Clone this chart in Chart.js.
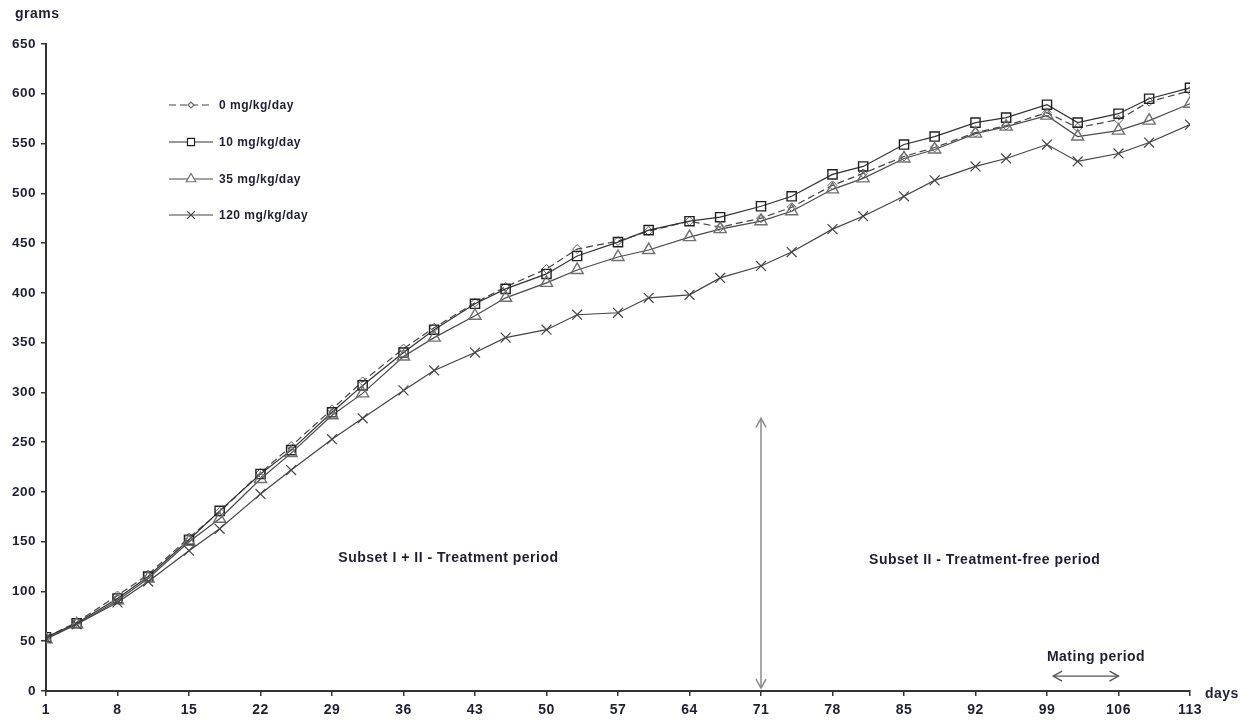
<!DOCTYPE html>
<html>
<head>
<meta charset="utf-8">
<script src="https://cdn.jsdelivr.net/npm/chart.js@4.4.1/dist/chart.umd.min.js"></script>
<style>
  html, body { margin: 0; padding: 0; background: #fff; }
  #wrap { width: 1249px; height: 721px; position: relative; }
</style>
</head>
<body>
<div id="wrap"><canvas id="chart" width="1249" height="721"></canvas></div>
<script>
// study days where body weight was recorded
const days = [1, 4, 8, 11, 15, 18, 22, 25, 29, 32, 36, 39, 43, 46, 50, 53, 57, 60, 64, 67, 71, 74, 78, 81, 85, 88, 92, 95, 99, 102, 106, 109, 113];
const dayTicks = [1, 8, 15, 22, 29, 36, 43, 50, 57, 64, 71, 78, 85, 92, 99, 106, 113];

// mean body weight (grams) per dose group
const dose0 = [54, 69, 96, 117, 154, 180, 219, 246, 283, 311, 344, 365, 390, 406, 424, 444, 452, 462, 472, 466, 475, 486, 508, 520, 537, 546, 561, 568, 581, 566, 574, 592, 603];
const dose10 = [54, 68, 93, 115, 152, 181, 218, 242, 280, 307, 340, 363, 389, 404, 419, 437, 451, 463, 472, 476, 487, 497, 519, 527, 549, 557, 571, 576, 589, 571, 580, 595, 606];
const dose35 = [52, 67, 91, 113, 150, 173, 213, 239, 277, 299, 336, 355, 377, 395, 410, 423, 436, 443, 456, 464, 472, 482, 504, 515, 535, 544, 560, 567, 578, 557, 563, 573, 590];
const dose120 = [53, 67, 89, 110, 141, 163, 198, 222, 253, 274, 302, 322, 340, 355, 363, 378, 380, 395, 398, 415, 427, 441, 464, 477, 497, 513, 527, 535, 549, 532, 540, 551, 569];

const labels = ['0 mg/kg/day', '10 mg/kg/day', '35 mg/kg/day', '120 mg/kg/day'];

const FONT = '"Liberation Sans", Arial, sans-serif';
const TEXT = '#1f1f33';

function toPoints(vals) {
  return days.map((d, i) => ({ x: d, y: vals[i] }));
}

// the original text is spaced out a little
const spacingPlugin = {
  id: 'spacing',
  beforeDraw(chart) { chart.ctx.letterSpacing = '0.5px'; }
};

// legend drawn by hand, stacked vertically in the upper left
const legendPlugin = {
  id: 'sideLegend',
  afterDraw(chart) {
    const ctx = chart.ctx;
    const rows = [105, 142, 179, 215];
    labels.forEach((lab, i) => {
      const ds = chart.data.datasets.find(d => d.label === lab);
      const y = rows[i];
      ctx.save();
      ctx.strokeStyle = ds.borderColor;
      ctx.lineWidth = 1.2;
      ctx.setLineDash(ds.borderDash || []);
      ctx.beginPath();
      ctx.moveTo(169, y);
      ctx.lineTo(213, y);
      ctx.stroke();
      ctx.setLineDash([]);
      ctx.fillStyle = '#fff';
      ctx.strokeStyle = ds.pointBorderColor;
      Chart.helpers.drawPoint(ctx, {
        pointStyle: ds.pointStyle,
        radius: ds.pointRadius - 1.5,
        borderWidth: 1.2
      }, 191, y);
      ctx.fillStyle = TEXT;
      ctx.font = 'bold 12px ' + FONT;
      ctx.textBaseline = 'middle';
      ctx.fillText(ds.label, 219, y + 1);
      ctx.restore();
    });
  }
};

function arrowHead(ctx, x, y, dx, dy) {
  const len = 9, w = 5;
  ctx.beginPath();
  ctx.moveTo(x - dx * len - dy * w, y - dy * len + dx * w);
  ctx.lineTo(x, y);
  ctx.lineTo(x - dx * len + dy * w, y - dy * len - dx * w);
  ctx.stroke();
}

// period notes and arrows
const notesPlugin = {
  id: 'notes',
  afterDatasetsDraw(chart) {
    const ctx = chart.ctx;
    const xs = chart.scales.x, ys = chart.scales.y;
    ctx.save();
    ctx.fillStyle = TEXT;
    ctx.font = 'bold 14px ' + FONT;
    ctx.textAlign = 'center';
    ctx.textBaseline = 'middle';
    ctx.fillText('Subset I + II - Treatment period', xs.getPixelForValue(40.4), ys.getPixelForValue(133));
    ctx.fillText('Subset II - Treatment-free period', xs.getPixelForValue(92.9), ys.getPixelForValue(131));
    ctx.fillText('Mating period', xs.getPixelForValue(103.8), ys.getPixelForValue(34));

    // treatment end arrow
    ctx.strokeStyle = '#8a8a8a';
    ctx.lineWidth = 1.5;
    const ax = xs.getPixelForValue(71);
    const top = ys.getPixelForValue(274), bot = ys.getPixelForValue(3);
    ctx.beginPath();
    ctx.moveTo(ax, top);
    ctx.lineTo(ax, bot);
    ctx.stroke();
    arrowHead(ctx, ax, top, 0, -1);
    arrowHead(ctx, ax, bot, 0, 1);

    // mating arrow
    ctx.strokeStyle = '#555';
    ctx.lineWidth = 1.3;
    const mx1 = xs.getPixelForValue(99.6), mx2 = xs.getPixelForValue(106);
    const my = ys.getPixelForValue(15);
    ctx.beginPath();
    ctx.moveTo(mx1, my);
    ctx.lineTo(mx2, my);
    ctx.stroke();
    arrowHead(ctx, mx1, my, -1, 0);
    arrowHead(ctx, mx2, my, 1, 0);

    // axis titles
    ctx.font = 'bold 14px ' + FONT;
    ctx.textAlign = 'left';
    ctx.fillText('grams', 15, 14);
    ctx.fillText('days', 1205, 694);
    ctx.restore();
  }
};

const ctx = document.getElementById('chart').getContext('2d');
new Chart(ctx, {
  type: 'line',
  data: {
    datasets: [
      {
        label: labels[3],
        data: toPoints(dose120),
        borderColor: '#444',
        borderWidth: 1.2,
        pointStyle: 'crossRot',
        pointRadius: 7,
        pointBorderColor: '#444',
        pointBorderWidth: 1.2,
        tension: 0
      },
      {
        label: labels[2],
        data: toPoints(dose35),
        borderColor: '#4a4a4a',
        borderWidth: 1.2,
        pointStyle: 'triangle',
        pointRadius: 7,
        pointBorderColor: '#707070',
        pointBackgroundColor: 'rgba(255,255,255,0)',
        pointBorderWidth: 1.4,
        tension: 0
      },
      {
        label: labels[1],
        data: toPoints(dose10),
        borderColor: '#333',
        borderWidth: 1.2,
        pointStyle: 'rect',
        pointRadius: 6.5,
        pointBorderColor: '#222',
        pointBackgroundColor: 'rgba(255,255,255,0)',
        pointBorderWidth: 1.4,
        tension: 0
      },
      {
        label: labels[0],
        data: toPoints(dose0),
        borderColor: '#444',
        borderWidth: 1.2,
        borderDash: [7, 4],
        pointStyle: 'rectRot',
        pointRadius: 4.5,
        pointBorderColor: '#666',
        pointBackgroundColor: 'rgba(255,255,255,0)',
        pointBorderWidth: 1,
        tension: 0
      }
    ]
  },
  options: {
    responsive: false,
    animation: false,
    layout: { padding: { left: 0, top: 44, right: 59, bottom: 0 } },
    plugins: {
      legend: { display: false },
      tooltip: { enabled: false }
    },
    scales: {
      x: {
        type: 'linear',
        min: 1,
        max: 113,
        afterBuildTicks: (scale) => { scale.ticks = dayTicks.map(v => ({ value: v })); },
        afterFit: (scale) => { scale.height = 30; },
        grid: { drawOnChartArea: false, drawTicks: true, tickLength: 5, color: '#333', lineWidth: 1.5 },
        border: { color: '#333', width: 2 },
        ticks: {
          autoSkip: false,
          maxRotation: 0,
          padding: 6,
          color: TEXT,
          font: { family: FONT, size: 14, weight: 'bold' }
        }
      },
      y: {
        min: 0,
        max: 650,
        afterFit: (scale) => { scale.width = 46; },
        grid: { drawOnChartArea: false, drawTicks: true, tickLength: 5, color: '#333', lineWidth: 1.5 },
        border: { color: '#333', width: 2 },
        ticks: {
          stepSize: 50,
          padding: 5,
          color: TEXT,
          font: { family: FONT, size: 13.5, weight: 'bold' }
        }
      }
    }
  },
  plugins: [spacingPlugin, legendPlugin, notesPlugin]
});
</script>
</body>
</html>
